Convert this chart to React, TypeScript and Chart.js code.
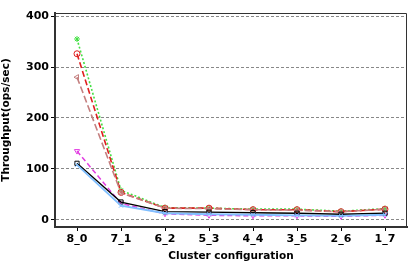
import React, { useEffect, useRef } from "react";
import { Chart, registerables } from "chart.js";

Chart.register(...registerables);

const categories = ["8_0", "7_1", "6_2", "5_3", "4_4", "3_5", "2_6", "1_7"];
const yTicks = [0, 100, 200, 300, 400];
const seriesGreen = [355, 58, 24, 23, 21, 21, 17, 22];
const seriesRed = [326, 54, 23, 23, 20, 20, 16, 21];
const seriesBrown = [280, 53, 23, 22, 20, 19, 16, 21];
const seriesMagenta = [135, 32, 12, 9, 8, 8, 7, 9];
const seriesBlack = [111, 35, 16, 15, 14, 13, 11, 13];
const seriesBlue = [108, 28, 13, 11, 10, 9, 8, 10];

const FONT = "'DejaVu Sans', Verdana, sans-serif";

export default function App() {
  const ref = useRef<HTMLCanvasElement>(null);
  useEffect(() => {
    document.body.style.margin = "0";
    const ctx = ref.current!;
    const mk = (label: string, data: number[], color: string, dash: number[], pointStyle: any, rotation = 0, width = 1.5) => ({
      label,
      data,
      borderColor: color,
      backgroundColor: "transparent",
      borderWidth: width,
      borderDash: dash,
      pointStyle,
      rotation,
      pointRadius: 3,
      pointBorderColor: color,
      pointBorderWidth: 1,
      pointBackgroundColor: "transparent",
      tension: 0,
    });
    const chart = new Chart(ctx, {
      type: "line",
      data: {
        labels: categories,
        datasets: [
          mk("blue", seriesBlue, "#80bfff", [], "crossRot", 0, 1.8),
          mk("black", seriesBlack, "#000000", [], "rect", 0, 1.3),
          mk("magenta", seriesMagenta, "#e23ee2", [5, 3], "triangle", 180),
          mk("brown", seriesBrown, "#c47f7f", [7, 3], "triangle", -90, 1.6),
          mk("red", seriesRed, "#e01f1f", [6, 3], "circle", 0, 1.6),
          mk("green", seriesGreen, "#44e044", [2, 2], "star", 0, 1.6),
        ],
      },
      options: {
        animation: false,
        responsive: false,
        maintainAspectRatio: false,
        layout: { padding: { top: 13, right: 8, left: 0, bottom: 0 } },
        plugins: { legend: { display: false }, tooltip: { enabled: false } },
        scales: {
          x: {
            offset: true,
            grid: { display: true, drawOnChartArea: false, drawTicks: true, tickLength: 4, color: "#000" },
            border: { display: true, color: "#333", width: 2 },
            ticks: { color: "#000", font: { family: FONT, size: 11, weight: "bold" }, padding: 2, maxRotation: 0 },
            title: { display: true, text: "Cluster configuration", color: "#000", font: { family: FONT, size: 10.5, weight: "bold" }, padding: { top: 4, bottom: 0 } },
            afterFit: (s: any) => { s.height = 36; },
          },
          y: {
            min: -14,
            max: 406,
            afterBuildTicks: (s: any) => { s.ticks = yTicks.map((v) => ({ value: v })); },
            grid: {
              display: true,
              drawOnChartArea: true,
              drawTicks: true,
              tickLength: 4,
              color: "#888",
              tickColor: "#000",
            } as any,
            border: { display: true, color: "#333", width: 2, dash: [3, 2] } as any,
            ticks: { color: "#000", font: { family: FONT, size: 11, weight: "bold" }, padding: 2 },
            title: { display: true, text: "Throughput(ops/sec)", color: "#000", font: { family: FONT, size: 10.5, weight: "bold" }, padding: { top: 0, bottom: 4 } },
            afterFit: (s: any) => { s.width = 55; },
          },
        },
      },
      plugins: [
        {
          id: "frame",
          afterDraw: (c: any) => {
            const { left, right, top, bottom } = c.chartArea;
            const g = c.ctx;
            g.save();
            g.strokeStyle = "#333";
            g.lineWidth = 1;
            g.setLineDash([]);
            g.beginPath();
            g.moveTo(left, top + 0.5);
            g.lineTo(right - 0.5, top + 0.5);
            g.lineTo(right - 0.5, bottom);
            g.stroke();
            g.restore();
          },
        },
      ],
    } as any);
    return () => chart.destroy();
  }, []);
  return (
    <div style={{ position: "absolute", left: 0, top: 0, width: 415, height: 263 }}>
      <canvas ref={ref} width={415} height={263} style={{ width: 415, height: 263 }} />
    </div>
  );
}
